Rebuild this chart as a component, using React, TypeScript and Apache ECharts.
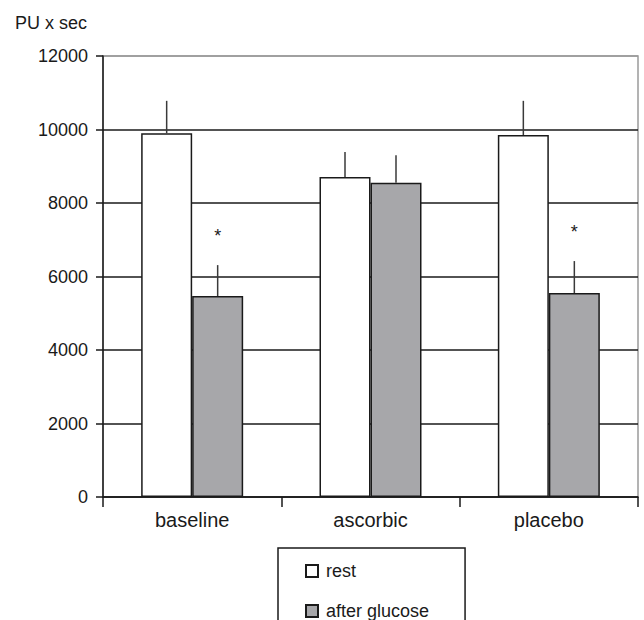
import React, { useEffect, useRef } from 'react';
import * as echarts from 'echarts';

const categories = ['baseline', 'ascorbic', 'placebo'];
const seriesNames = ['rest', 'after glucose'];
const restValues = [9900, 8710, 9850];
const restErrorTop = [10780, 9390, 10780];
const glucoseValues = [5470, 8550, 5550];
const glucoseErrorTop = [6310, 9300, 6420];
const asteriskValues: (number | null)[] = [7100, null, 7210];

const FONT = '"Liberation Sans", Arial, sans-serif';
const TEXT = '#1a1a1a';
const BAR_W = 51;

function errorSeries(values: number[], tops: number[], offset: number, stars?: (number | null)[]) {
  return {
    type: 'custom',
    z: 5,
    silent: true,
    data: categories.map((_, i) => [i, values[i], tops[i], stars && stars[i] != null ? stars[i] : -1]),
    renderItem: (params: any, api: any) => {
      const i = api.value(0);
      const base = api.coord([i, api.value(1)]);
      const top = api.coord([i, api.value(2)]);
      const x = base[0] + offset;
      const children: any[] = [
        {
          type: 'line',
          shape: { x1: x, y1: base[1], x2: x, y2: top[1] },
          style: { stroke: '#3a3a3a', lineWidth: 1.5 },
        },
      ];
      const s = api.value(3);
      if (s >= 0) {
        const p = api.coord([i, s]);
        children.push({
          type: 'text',
          x,
          y: p[1],
          style: {
            text: '*',
            fontSize: 18,
            fontFamily: FONT,
            fill: TEXT,
            align: 'center',
            verticalAlign: 'middle',
          },
        });
      }
      return { type: 'group', children };
    },
  };
}

export default function App() {
  const ref = useRef<HTMLDivElement>(null);
  useEffect(() => {
    if (!ref.current) return;
    const chart = echarts.init(ref.current, null, { renderer: 'svg' });
    chart.setOption({
      animation: false,
      backgroundColor: '#ffffff',
      title: {
        text: 'PU x sec',
        left: 10,
        top: 9,
        textStyle: { fontSize: 18, fontWeight: 'normal', color: TEXT, fontFamily: FONT },
      },
      legend: {
        data: seriesNames,
        orient: 'vertical',
        left: 278,
        top: 548,
        height: 150,
        padding: [14, 36, 20, 27],
        itemGap: 22,
        itemWidth: 12,
        itemHeight: 12,
        icon: 'rect',
        borderColor: '#1a1a1a',
        borderWidth: 1.5,
        selectedMode: false,
        textStyle: { fontSize: 18, color: TEXT, fontFamily: FONT, padding: [0, 0, 0, 3] },
      },
      grid: {
        left: 103,
        right: 6,
        top: 56,
        bottom: 123,
        show: true,
        borderColor: '#9a9a9a',
        borderWidth: 1.5,
        backgroundColor: 'transparent',
      },
      xAxis: {
        type: 'category',
        data: categories,
        axisLine: { lineStyle: { color: '#1a1a1a', width: 1.5 } },
        axisTick: { show: true, length: 10, alignWithLabel: false, lineStyle: { color: '#1a1a1a', width: 1.5 } },
        axisLabel: { fontSize: 20, color: TEXT, fontFamily: FONT, margin: 13 },
        splitLine: { show: false },
      },
      yAxis: {
        type: 'value',
        min: 0,
        max: 12000,
        interval: 2000,
        axisLine: { show: true, lineStyle: { color: '#1a1a1a', width: 1.5 } },
        axisTick: { show: true, length: 7, lineStyle: { color: '#1a1a1a', width: 1.5 } },
        axisLabel: { fontSize: 18, color: TEXT, fontFamily: FONT, margin: 15, formatter: (v: number) => String(v) },
        splitLine: {
          show: true,
          lineStyle: {
            color: ['#1a1a1a', '#1a1a1a', '#1a1a1a', '#1a1a1a', '#1a1a1a', '#1a1a1a', '#9a9a9a'],
            width: 1.5,
          },
        },
      },
      series: [
        {
          name: seriesNames[0],
          type: 'bar',
          data: restValues,
          barWidth: BAR_W,
          barGap: '0%',
          itemStyle: { color: '#ffffff', borderColor: '#1a1a1a', borderWidth: 1.5 },
        },
        {
          name: seriesNames[1],
          type: 'bar',
          data: glucoseValues,
          barWidth: BAR_W,
          barGap: '0%',
          itemStyle: { color: '#a7a7aa', borderColor: '#1a1a1a', borderWidth: 1.5 },
        },
        errorSeries(restValues, restErrorTop, -BAR_W / 2),
        errorSeries(glucoseValues, glucoseErrorTop, BAR_W / 2, asteriskValues),
      ],
    });
    return () => chart.dispose();
  }, []);
  return <div ref={ref} style={{ position: 'absolute', left: 0, top: 0, width: 644, height: 620 }} />;
}
